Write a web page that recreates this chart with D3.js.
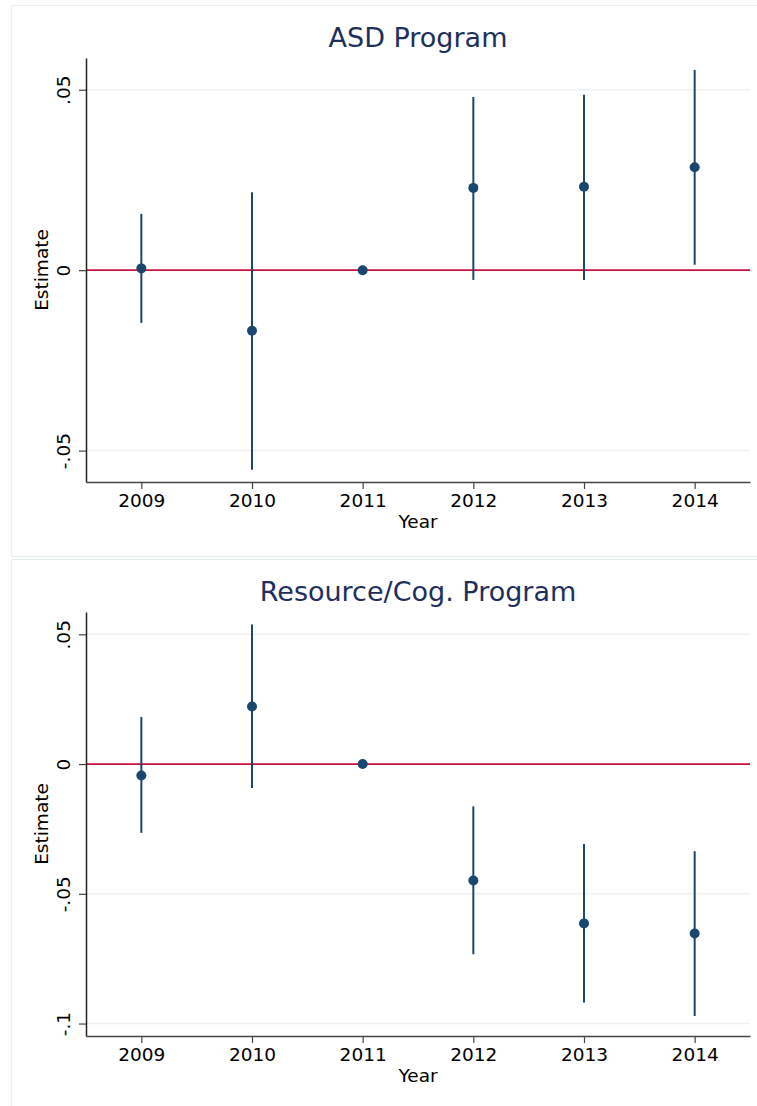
<!DOCTYPE html>
<html>
<head>
<meta charset="utf-8">
<script src="https://cdn.jsdelivr.net/npm/d3@7"></script>
<style>
  body { margin: 0; background: #fff; }
  svg text { font-family: "DejaVu Sans", sans-serif; }
</style>
</head>
<body>
<div id="chart"></div>
<script>
// Event-study estimates
const years = [2009, 2010, 2011, 2012, 2013, 2014];

const asdEst = [0.0005, -0.0168, 0, 0.0228, 0.0231, 0.0285];
const asdLo  = [-0.0146, -0.0553, 0, -0.0027, -0.0027, 0.0015];
const asdHi  = [0.0156, 0.0216, 0, 0.0480, 0.0486, 0.0555];

const resEst = [-0.0044, 0.0222, 0, -0.0449, -0.0614, -0.0653];
const resLo  = [-0.0265, -0.0092, 0, -0.0733, -0.0919, -0.0971];
const resHi  = [0.0181, 0.0538, 0, -0.0163, -0.0308, -0.0336];

const asdTicks = [-0.05, 0, 0.05];
const asdTickLabels = ["-.05", "0", ".05"];
const resTicks = [-0.1, -0.05, 0, 0.05];
const resTickLabels = ["-.1", "-.05", "0", ".05"];

const W = 757, H = 1106;
const navy = "#1a476f";

const svg = d3.select("#chart")
    .append("svg")
    .attr("width", W)
    .attr("height", H);

function drawPanel(top, title, est, lo, hi, yDomain, ticks, tickLabels) {
    const margin = {left: 86, top: 53},
          width = 664,
          height = 424;

    const panel = svg.append("g").attr("transform", `translate(0,${top})`);

    // panel frame
    panel.append("rect")
        .attr("x", 11.5).attr("y", 0.5)
        .attr("width", 760).attr("height", 551)
        .attr("fill", "none")
        .attr("stroke", "#e8eff1")
        .attr("stroke-width", 1.2);

    // title
    panel.append("text")
        .attr("x", margin.left + width / 2)
        .attr("y", 42)
        .attr("text-anchor", "middle")
        .style("font-size", "27px")
        .attr("fill", "#1e2f5c")
        .text(title);

    const g = panel.append("g").attr("transform", `translate(${margin.left},${margin.top})`);

    const x = d3.scaleLinear().domain([2008.5, 2014.5]).range([0, width]);
    const y = d3.scaleLinear().domain(yDomain).range([height, 0]);

    // gridlines
    g.selectAll("line.grid")
        .data(ticks)
        .enter().append("line")
        .attr("x1", 0).attr("x2", width)
        .attr("y1", d => y(d)).attr("y2", d => y(d))
        .attr("stroke", "#eaf2f3")
        .attr("stroke-width", 1.5);

    // zero reference line
    g.append("line")
        .attr("x1", 0).attr("x2", width)
        .attr("y1", y(0)).attr("y2", y(0))
        .attr("stroke", "#cc1040")
        .attr("stroke-width", 1.8);

    const rows = years.map((yr, i) => ({yr, est: est[i], lo: lo[i], hi: hi[i]}));

    // confidence intervals
    g.selectAll("line.ci")
        .data(rows.filter(d => d.lo !== d.hi))
        .enter().append("line")
        .attr("x1", d => x(d.yr)).attr("x2", d => x(d.yr))
        .attr("y1", d => y(d.lo)).attr("y2", d => y(d.hi))
        .attr("stroke", navy)
        .attr("stroke-width", 2);

    // point estimates
    g.selectAll("circle")
        .data(rows)
        .enter().append("circle")
        .attr("cx", d => x(d.yr))
        .attr("cy", d => y(d.est))
        .attr("r", 5)
        .attr("fill", navy);

    // y axis
    const yAxis = g.append("g")
        .call(d3.axisLeft(y).tickValues(ticks)
            .tickFormat((d, i) => tickLabels[i])
            .tickSize(7).tickSizeOuter(0));
    yAxis.select(".domain").attr("stroke", "#222").attr("stroke-width", 1.5);
    yAxis.selectAll(".tick line").attr("stroke", "#444").attr("stroke-width", 1.2);
    yAxis.selectAll(".tick text")
        .attr("transform", "rotate(-90)")
        .attr("x", 0).attr("y", -16).attr("dy", 0)
        .attr("text-anchor", "middle")
        .attr("fill", "#000")
        .style("font-size", "18.5px");

    // x axis
    const xAxis = g.append("g")
        .attr("transform", `translate(0,${height})`)
        .call(d3.axisBottom(x).tickValues(years)
            .tickFormat(d3.format("d"))
            .tickSize(7).tickSizeOuter(0));
    xAxis.select(".domain").attr("stroke", "#444").attr("stroke-width", 1.5);
    xAxis.selectAll(".tick line").attr("stroke", "#444").attr("stroke-width", 1.2);
    xAxis.selectAll(".tick text")
        .attr("y", 12)
        .attr("fill", "#000")
        .style("font-size", "18.5px");

    // axis titles
    g.append("text")
        .attr("x", width / 2)
        .attr("y", height + 46)
        .attr("text-anchor", "middle")
        .style("font-size", "18.5px")
        .text("Year");

    g.append("text")
        .attr("transform", "rotate(-90)")
        .attr("x", -height / 2)
        .attr("y", -38)
        .attr("text-anchor", "middle")
        .style("font-size", "18.5px")
        .text("Estimate");
}

drawPanel(5, "ASD Program", asdEst, asdLo, asdHi, [-0.0587, 0.0588], asdTicks, asdTickLabels);
drawPanel(559, "Resource/Cog. Program", resEst, resLo, resHi, [-0.1048, 0.0586], resTicks, resTickLabels);
</script>
</body>
</html>
